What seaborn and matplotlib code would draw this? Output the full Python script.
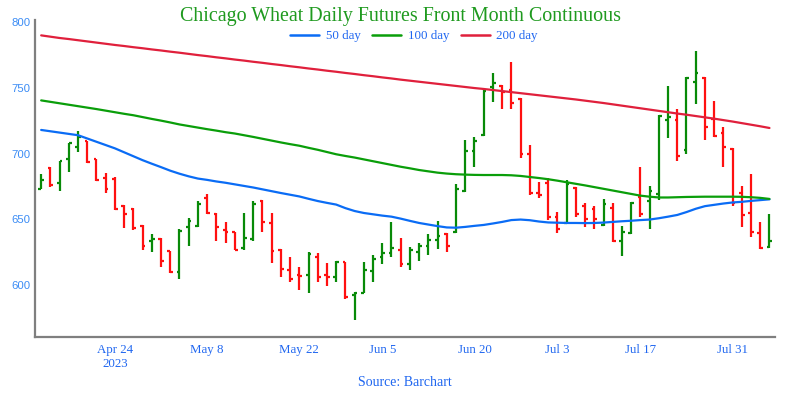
import numpy as np
import pandas as pd
import seaborn as sns
import matplotlib.pyplot as plt
from matplotlib.lines import Line2D


# trading days Apr 12 - Aug 4 2023 (US market holidays removed)
dates = pd.bdate_range("2023-04-12", "2023-08-04", freq="C",
                       holidays=["2023-05-29", "2023-06-19", "2023-07-04"])

opens = [673.3, 689.0, 677.9, 695.7, 705.3, 709.3, 695.7, 681.4, 681.0, 660.0,
         658.0, 645.0, 633.5, 635.0, 625.5, 610.0, 644.5, 645.0, 666.0, 653.8,
         642.0, 640.5, 627.9, 635.0, 664.0, 647.0, 627.0, 611.4, 607.8, 607.6,
         621.5, 607.6, 606.3, 617.5, 592.0, 594.2, 610.9, 621.5, 624.6, 627.0,
         616.0, 624.9, 629.9, 634.0, 638.6, 640.6, 671.5, 702.2, 713.9, 750.4,
         751.4, 748.4, 741.3, 699.5, 670.2, 678.0, 652.0, 647.4, 673.5, 660.1,
         657.6, 645.7, 658.8, 633.7, 639.8, 666.7, 664.2, 669.3, 725.6, 725.6,
         702.7, 754.7, 757.8, 726.1, 715.5, 703.3, 670.2, 655.0, 639.8, 628.7]
highs = [684.5, 689.6, 694.6, 708.3, 717.4, 709.8, 696.1, 685.5, 682.0, 661.0,
         658.5, 645.5, 639.0, 635.5, 626.0, 642.4, 650.7, 664.0, 669.3, 654.6,
         648.2, 640.6, 654.6, 664.0, 664.7, 654.6, 627.2, 621.0, 613.9, 624.9,
         624.6, 616.5, 618.5, 617.8, 594.5, 617.8, 622.8, 631.7, 648.2, 635.5,
         629.2, 632.2, 638.6, 648.9, 639.3, 676.6, 710.3, 712.9, 748.4, 761.1,
         752.2, 769.7, 742.1, 706.5, 678.2, 681.2, 655.8, 679.9, 674.8, 662.2,
         660.4, 665.2, 662.6, 644.9, 663.4, 690.0, 675.6, 729.1, 751.4, 733.9,
         758.5, 778.1, 758.1, 740.3, 720.5, 704.0, 675.3, 684.5, 648.2, 654.0]
lows = [672.8, 674.8, 671.3, 686.0, 701.2, 693.1, 679.4, 669.8, 657.0, 643.0,
        642.0, 626.6, 625.0, 614.0, 609.0, 604.3, 629.5, 644.0, 653.8, 633.5,
        632.0, 626.6, 626.6, 633.5, 640.1, 616.5, 605.9, 602.5, 596.2, 594.1,
        602.5, 599.2, 602.5, 589.1, 573.5, 593.6, 602.5, 616.0, 621.5, 613.5,
        611.4, 618.5, 622.8, 627.2, 625.3, 639.8, 670.5, 690.0, 713.4, 739.5,
        733.7, 733.7, 696.4, 668.5, 666.0, 649.5, 639.3, 647.0, 652.0, 644.4,
        642.6, 644.9, 632.5, 622.3, 638.6, 651.5, 642.6, 664.7, 711.6, 694.4,
        699.5, 737.5, 710.3, 712.4, 689.6, 660.4, 643.9, 636.8, 627.2, 627.9]
closes = [679.9, 675.9, 694.1, 707.8, 712.9, 693.6, 679.9, 673.3, 657.6, 654.0,
          643.0, 630.0, 635.0, 618.5, 610.0, 641.1, 649.0, 661.4, 654.6, 643.9,
          640.6, 627.0, 635.5, 662.0, 648.2, 626.0, 612.0, 604.3, 606.5, 623.6,
          605.9, 605.9, 617.8, 591.1, 594.0, 611.4, 619.8, 624.1, 627.9, 616.0,
          626.6, 629.7, 634.2, 637.0, 629.7, 673.0, 702.2, 709.8, 747.9, 753.5,
          747.1, 738.7, 699.5, 670.2, 668.5, 651.5, 642.4, 676.6, 654.0, 650.0,
          650.0, 661.6, 633.5, 640.6, 662.2, 654.0, 671.5, 728.8, 727.6, 698.2,
          757.8, 761.1, 720.5, 713.4, 704.8, 662.2, 653.3, 640.6, 627.9, 633.7]

ma50 = [718.0, 717.0, 716.0, 715.0, 714.0, 711.5, 709.0, 706.5, 704.0, 701.0,
        698.0, 695.0, 692.3, 689.7, 687.0, 684.7, 682.7, 681.0, 680.0, 678.8,
        677.8, 676.6, 675.4, 674.2, 672.8, 671.4, 670.0, 668.7, 667.4, 665.6,
        663.9, 662.5, 661.2, 658.5, 656.3, 654.8, 653.8, 652.8, 652.0, 650.5,
        648.8, 647.2, 646.0, 644.8, 643.8, 643.6, 644.2, 645.0, 645.7, 646.8,
        648.0, 649.4, 649.8, 649.3, 648.3, 647.6, 647.4, 647.2, 647.2, 647.1,
        647.2, 647.5, 648.0, 648.5, 648.9, 649.4, 649.8, 650.8, 652.0, 653.3,
        655.5, 658.0, 660.0, 661.0, 662.0, 662.8, 663.3, 664.0, 664.6, 665.2]
ma100 = [740.5, 739.4, 738.3, 737.2, 736.1, 735.0, 733.9, 732.7, 731.5, 730.3,
         729.2, 727.8, 726.4, 725.1, 723.7, 722.2, 721.0, 719.8, 718.6, 717.5,
         716.3, 715.3, 714.0, 712.7, 711.3, 709.9, 708.5, 707.2, 706.0, 704.4,
         702.9, 701.2, 699.5, 698.2, 697.0, 695.6, 694.2, 692.8, 691.4, 690.0,
         688.8, 687.5, 686.5, 685.5, 684.8, 684.3, 684.0, 683.8, 683.7, 683.7,
         683.7, 683.5, 683.0, 682.2, 681.4, 680.5, 679.4, 678.2, 677.0, 675.8,
         674.5, 673.2, 671.9, 670.6, 669.3, 668.0, 667.2, 666.6, 666.6, 666.8,
         667.0, 667.1, 667.2, 667.2, 667.2, 667.2, 667.1, 666.8, 666.3, 665.5]
ma200 = [790.0, 789.0, 788.0, 787.2, 786.3, 785.4, 784.5, 783.6, 782.7, 781.9,
         781.0, 780.2, 779.3, 778.5, 777.6, 776.8, 775.9, 775.0, 774.2, 773.3,
         772.5, 771.6, 770.8, 769.9, 769.1, 768.2, 767.4, 766.5, 765.7, 764.8,
         764.0, 763.1, 762.3, 761.4, 760.6, 759.7, 758.9, 758.0, 757.2, 756.3,
         755.5, 754.7, 753.9, 753.1, 752.3, 751.5, 750.7, 749.9, 749.2, 748.4,
         747.6, 746.8, 746.0, 745.2, 744.4, 743.6, 742.8, 742.0, 741.2, 740.3,
         739.4, 738.5, 737.5, 736.5, 735.5, 734.5, 733.5, 732.5, 731.5, 730.5,
         729.6, 728.6, 727.6, 726.6, 725.5, 724.4, 723.2, 722.0, 720.8, 719.5]

tick_dates = ["2023-04-24", "2023-05-08", "2023-05-22", "2023-06-05",
              "2023-06-20", "2023-07-03", "2023-07-17", "2023-07-31"]
tick_labels = ["Apr 24\n2023", "May 8", "May 22", "Jun 5",
               "Jun 20", "Jul 3", "Jul 17", "Jul 31"]

ma_names = ["50 day", "100 day", "200 day"]
ma_colors = {"50 day": "#0a6cf5", "100 day": "#0a9e0a", "200 day": "#e0203c"}

sns.set_theme(style="white")
plt.rcParams["font.family"] = ["Liberation Serif", "DejaVu Serif"]
text_blue = "#1f66f0"

fig, ax = plt.subplots(figsize=(8, 4), dpi=100)
fig.subplots_adjust(left=0.04375, right=0.96875, bottom=0.1575, top=0.95)

idx = np.arange(len(dates))
o = np.array(opens)
c = np.array(closes)
bar_colors = np.where(c >= o, "#088a08", "#ff1010")

# OHLC bars
ax.vlines(idx, lows, highs, colors=bar_colors, linewidth=1.6, zorder=2)
ax.hlines(o, idx - 0.3, idx, colors=bar_colors, linewidth=1.6, zorder=2)
ax.hlines(c, idx, idx + 0.3, colors=bar_colors, linewidth=1.6, zorder=2)

# moving averages
ma = pd.DataFrame({
    "x": np.tile(idx, 3),
    "value": ma50 + ma100 + ma200,
    "series": np.repeat(ma_names, len(idx)),
})
sns.lineplot(data=ma, x="x", y="value", hue="series", palette=ma_colors,
             linewidth=1.6, legend=False, ax=ax, zorder=3)

ax.set_xlim(-0.67, 79.6)
ax.set_ylim(560.4, 801.7)
ax.set_xlabel("")
ax.set_ylabel("")

pos = [dates.get_loc(pd.Timestamp(d)) for d in tick_dates]
ax.set_xticks(pos)
ax.set_xticklabels(tick_labels, color=text_blue, fontsize=9.3)
ax.set_yticks([600, 650, 700, 750, 800])
ax.set_yticklabels(["600", "650", "700", "750", "800"], color="#3b8cf5",
                   fontsize=8.2, family="Liberation Sans")
ax.tick_params(axis="x", length=0, pad=5)
ax.tick_params(axis="y", length=0, pad=3)

for side in ["top", "right"]:
    ax.spines[side].set_visible(False)
for side in ["left", "bottom"]:
    ax.spines[side].set_color("#7f7f7f")
    ax.spines[side].set_linewidth(1.6)

fig.text(0.5, 1 - 16 / 400, "Chicago Wheat Daily Futures Front Month Continuous",
         ha="center", va="center", fontsize=14.4, color="#1f9a1f")

handles = [Line2D([], [], color=ma_colors[n], linewidth=1.8) for n in ma_names]
leg = fig.legend(handles, ma_names, loc="center", ncol=3, frameon=False,
                 bbox_to_anchor=(414 / 800, 1 - 36 / 400), fontsize=9.4,
                 handlelength=2.2, handletextpad=0.5, columnspacing=0.9)
for t in leg.get_texts():
    t.set_color(text_blue)

fig.text(0.506, 1 - 382 / 400, "Source: Barchart", ha="center", va="center",
         fontsize=10, color=text_blue)

fig.savefig("out.png", dpi=100)
